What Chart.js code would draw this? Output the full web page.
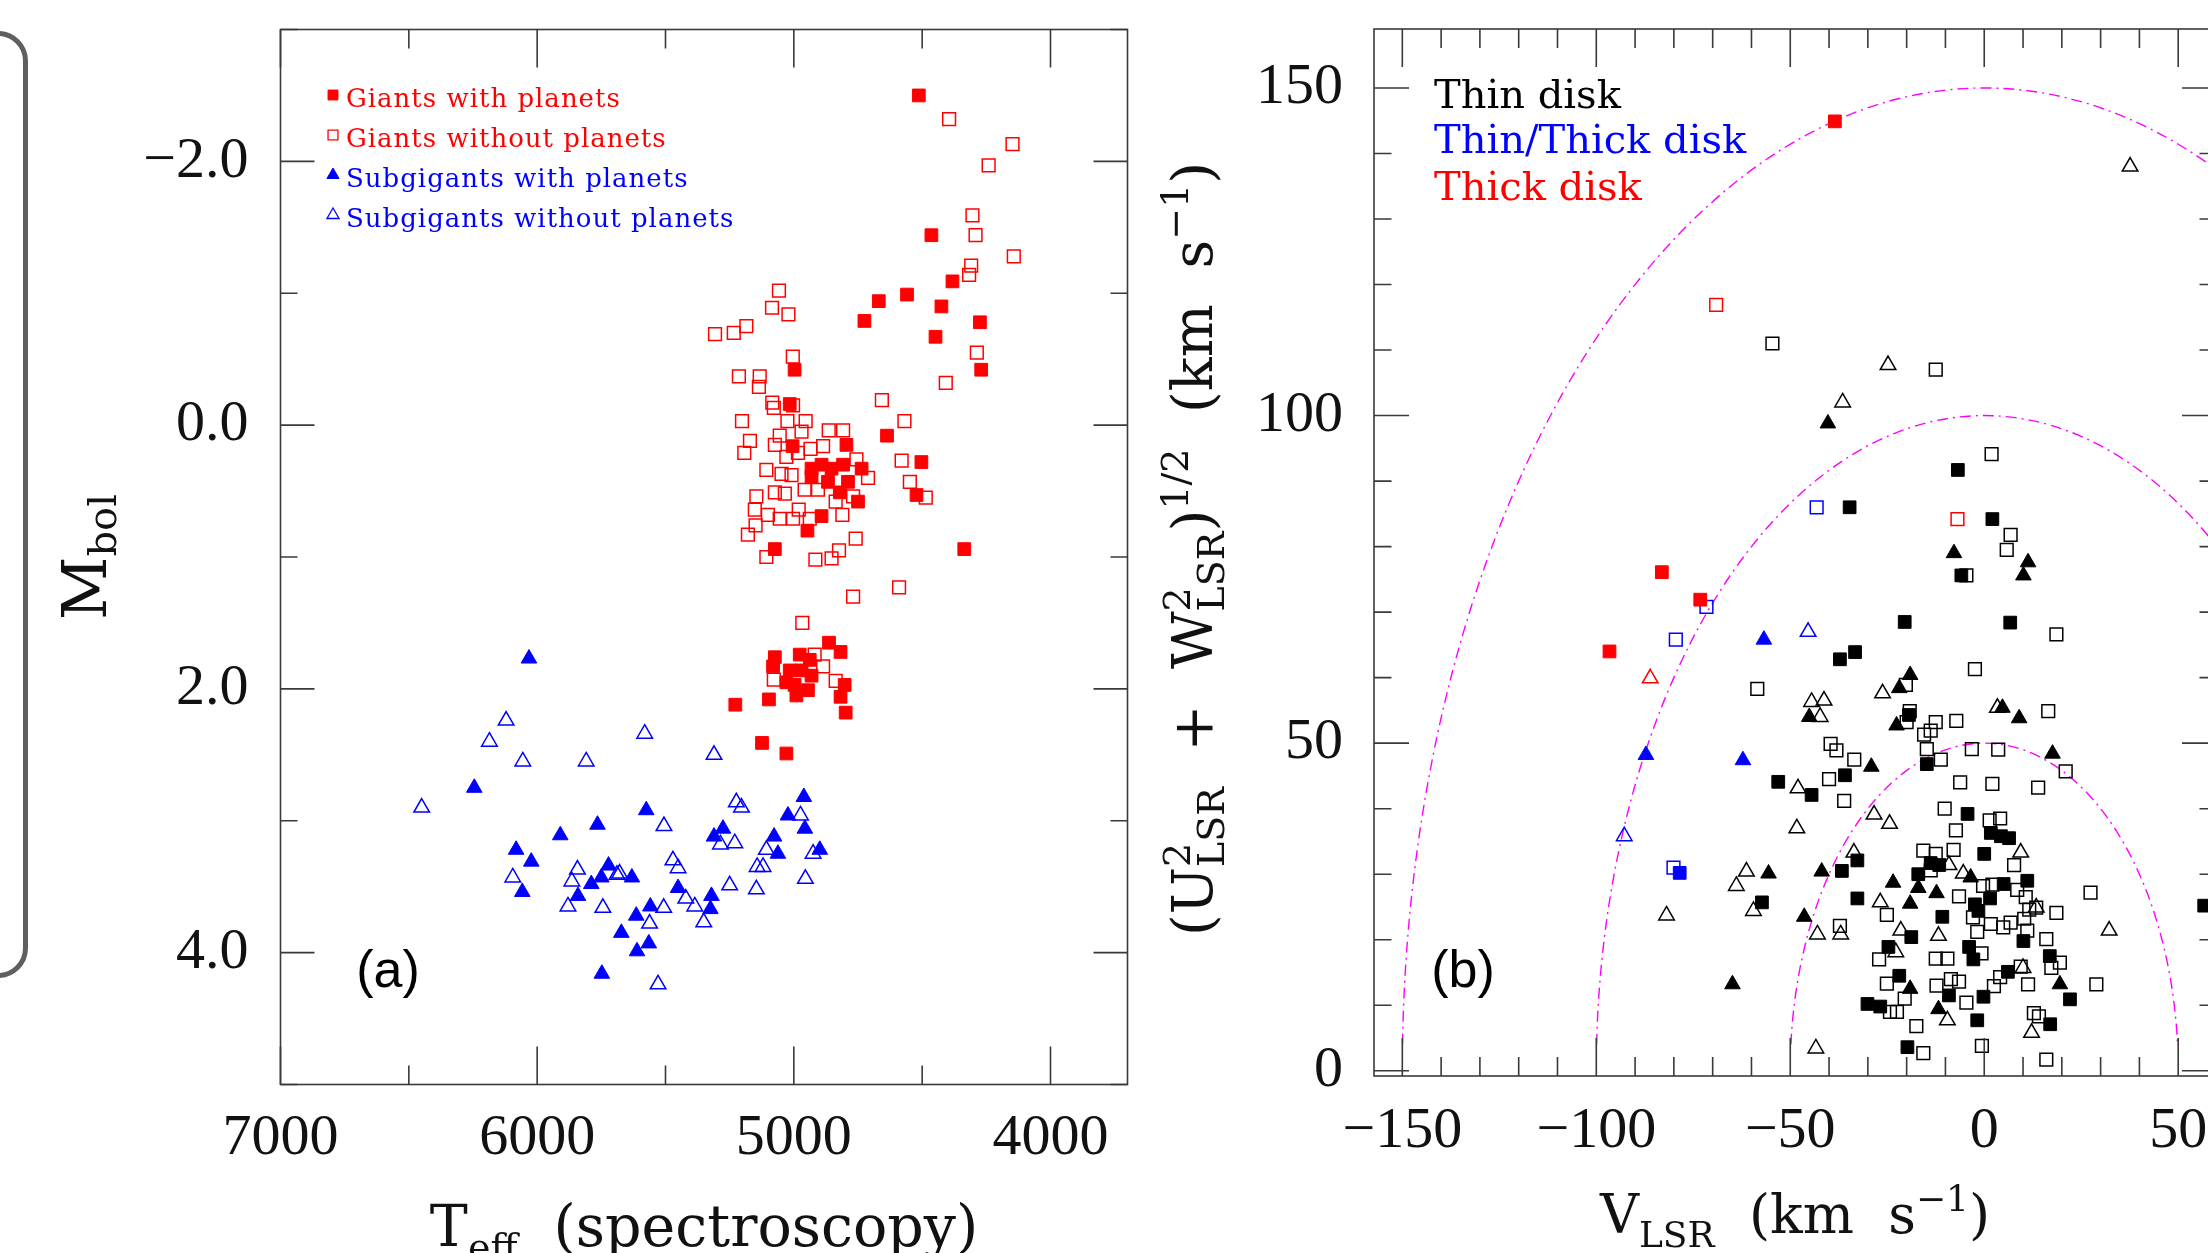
<!DOCTYPE html>
<html>
<head>
<meta charset="utf-8">
<script src="https://cdn.jsdelivr.net/npm/chart.js@4.4.1/dist/chart.umd.min.js"></script>
<style>
  html, body { margin: 0; padding: 0; background: #fff; overflow: hidden; }
  body { width: 2208px; height: 1253px; position: relative; }
  canvas { position: absolute; top: 0; }
  #chartA { left: 0; }
  #chartB { left: 1130px; }
  #bracket { position: absolute; left: -120px; top: 31px; width: 138px; height: 937px;
             border: 5px solid #5f5f5f; border-radius: 30px; }
</style>
</head>
<body>
<div id="bracket"></div>
<canvas id="chartA" width="1160" height="1253"></canvas>
<canvas id="chartB" width="1130" height="1253"></canvas>
<script>
// ---- panel (a): Teff vs Mbol ----
const teffTicks = [4000, 4500, 5000, 5500, 6000, 6500, 7000];
const mbolTicks = [-3, -2, -1, 0, 1, 2, 3, 4, 5];
const legendA = ['Giants with planets', 'Giants without planets', 'Subgigants with planets', 'Subgigants without planets'];

const giantsWithPlanets = [
  [4513,-2.50],[4464,-1.44],[4382,-1.09],[4559,-0.99],[4669,-0.94],[4725,-0.79],[4425,-0.90],[4275,-0.78],
  [4448,-0.67],[4270,-0.42],[4997,-0.42],[5016,-0.16],[4637,0.08],[4503,0.28],[4522,0.53],
  [5005,0.16],[4795,0.15],[4892,0.69],[4947,0.80],[5074,0.94],[4336,0.94],[4931,0.33],[4892,0.30],
  [4853,0.33],[4808,0.30],[4736,0.33],[4867,0.43],[4821,0.51],[4789,0.43],[4750,0.58],[4931,0.39],
  [4863,1.65],[4818,1.72],[5074,1.76],[4977,1.74],[4938,1.78],[5081,1.83],[5016,1.86],[4970,1.86],
  [4931,1.90],[5029,1.95],[4997,1.97],[4945,2.01],[4990,2.05],[4802,1.97],[4818,2.06],[4798,2.18],
  [5228,2.12],[5097,2.08],[5124,2.41],[5029,2.49]
];
const giantsWithoutPlanets = [
  [4395,-2.32],[4148,-2.13],[4241,-1.97],[4304,-1.59],[4292,-1.44],[4143,-1.28],[4309,-1.21],[4317,-1.14],
  [4287,-0.55],[4408,-0.32],[5058,-1.02],[5085,-0.89],[5021,-0.84],[5185,-0.75],[5234,-0.70],[5307,-0.69],
  [5004,-0.52],[5214,-0.37],[5133,-0.37],[5136,-0.29],[4657,-0.19],[4569,-0.03],[4580,0.27],[4548,0.43],
  [5202,-0.03],[5171,0.12],[5193,0.21],[5107,0.34],
  [5084,-0.17],[5078,-0.13],[5003,-0.15],[5025,-0.03],[4954,-0.03],[4970,0.05],[4864,0.04],[4808,0.04],
  [5074,0.15],[5055,0.08],[4935,0.18],[4886,0.16],[4984,0.21],[5029,0.24],[5048,0.37],[5009,0.38],
  [4958,0.49],[4906,0.49],[4756,0.26],[4711,0.40],[4486,0.55],[5146,0.54],[5074,0.51],[5035,0.52],
  [5152,0.64],[5101,0.68],[5055,0.71],[5003,0.71],[4981,0.64],[4938,0.71],[4811,0.68],[4837,0.58],
  [4769,0.54],[5149,0.76],[5179,0.83],[5107,1.00],[4916,1.02],[4853,1.01],[4824,0.95],[4759,0.86],
  [4590,1.23],[4769,1.30],[4967,1.50],
  [4919,1.74],[4886,1.83],[5078,1.93],[4837,1.94]
];
const subgiantsWithPlanets = [
  [6032,1.77],[6245,2.75],[4961,2.82],[5575,2.92],[5765,3.03],[5910,3.11],[5023,2.96],[4957,3.06],
  [5276,3.06],[5311,3.12],[5077,3.12],[5062,3.25],[4899,3.22],[6082,3.22],[6023,3.31],[6058,3.54],
  [5722,3.34],[5631,3.43],[5750,3.43],[5789,3.48],[5841,3.57],[5451,3.51],[5321,3.57],[5325,3.67],
  [5559,3.65],[5614,3.72],[5672,3.85],[5565,3.93],[5611,3.99],[5748,4.16]
];
const subgiantsWithoutPlanets = [
  [6121,2.24],[6186,2.40],[6056,2.55],[5809,2.55],[5581,2.34],[5311,2.50],[6450,2.90],[5506,3.04],
  [5224,2.86],[5204,2.90],[4974,2.96],[5230,3.17],[5286,3.18],[5107,3.22],[4925,3.25],[5143,3.35],
  [5120,3.35],[5250,3.49],[5146,3.52],[4955,3.44],[6095,3.43],[5843,3.37],[5865,3.46],[5880,3.65],
  [5744,3.66],[5679,3.40],[5689,3.41],[5471,3.30],[5451,3.36],[5421,3.59],[5386,3.65],[5507,3.66],
  [5562,3.78],[5351,3.77],[5529,4.24]
];

// ---- panel (b): Toomre diagram ----
const vlsrTicks = [-150, -140, -130, -120, -110, -100, -90, -80, -70, -60, -50, -40, -30, -20, -10, 0, 10, 20, 30, 40, 50, 60];
const uwTicks = [0, 10, 20, 30, 40, 50, 60, 70, 80, 90, 100, 110, 120, 130, 140, 150];
const velocityCircles = [50, 100, 150];
const legendB = ['Thin disk', 'Thin/Thick disk', 'Thick disk'];

const thinGiantsPlanets = [
  [-53.1,44.1],[-57.3,25.7],[-34.7,86.0],[-6.8,91.7],[2.1,84.2],[-5.9,75.6],[-20.5,68.5],[6.7,68.4],
  [-37.2,62.8],[-33.3,63.9],[-19.4,54.3],[-35.9,45.1],[-44.5,42.1],[-14.8,46.8],[-4.3,39.2],[1.7,36.3],
  [4.3,35.8],[6.4,35.5],[0.0,33.1],[-32.7,32.1],[-36.7,30.5],[-13.8,31.7],[-11.6,31.4],[-17.0,30.0],
  [-32.7,26.3],[5.0,28.5],[11.1,29.0],[1.5,26.3],[-2.4,25.4],[-1.5,24.4],[-10.8,23.5],[-18.8,20.4],
  [-24.7,18.9],[-3.9,18.9],[-2.8,17.0],[10.1,19.8],[16.9,17.5],[6.1,15.1],[-21.9,14.5],[22.1,10.9],
  [-30.1,10.2],[-26.8,9.8],[-9.1,11.5],[-0.2,11.3],[-1.8,7.7],[17.0,7.1],[-19.8,3.6],[56.7,25.2]
];
const thinGiantsNoPlanets = [
  [-54.6,111.0],[-12.5,107.0],[1.9,94.1],[6.8,81.8],[5.8,79.5],[-4.6,75.6],[18.6,66.6],[-2.4,61.3],
  [-20.2,58.9],[16.5,54.9],[-19.2,54.9],[-20.0,53.2],[-7.2,53.4],[-12.5,53.2],[-13.8,51.9],[-15.5,51.3],
  [-39.6,49.9],[-38.1,48.9],[-33.5,47.5],[-14.8,49.1],[-11.2,47.5],[-3.2,49.1],[3.6,49.0],[21.0,45.7],
  [-40.0,44.5],[-36.1,41.2],[-6.2,44.0],[2.1,43.8],[13.9,43.2],[-10.2,40.0],[-7.3,36.7],[1.4,38.2],
  [4.1,38.5],[-7.9,33.7],[-15.7,33.6],[-12.5,33.1],[-13.8,30.6],[7.7,31.4],[-0.3,28.2],[2.1,28.4],
  [8.5,27.6],[-6.5,26.6],[10.7,26.5],[27.4,27.2],[18.6,24.1],[-25.1,23.8],[-37.2,22.1],[-2.9,23.4],
  [1.7,22.4],[4.9,21.9],[6.8,22.6],[10.3,23.2],[11.6,24.6],[13.4,24.9],[11.1,21.4],[-1.8,21.2],
  [16.0,20.1],[-0.7,17.9],[-27.1,17.0],[-12.5,17.1],[-9.5,17.1],[19.5,16.5],[17.3,15.7],[9.4,15.9],
  [4.1,14.3],[-25.1,13.3],[-12.3,13.0],[-8.6,14.0],[-6.5,13.6],[11.3,13.2],[28.9,13.2],[2.5,12.9],
  [-20.5,11.0],[-24.3,9.0],[-22.5,9.0],[-4.6,10.4],[12.8,8.8],[14.1,8.3],[-17.5,6.8],[-15.7,2.7],
  [-0.6,3.8],[16.0,1.7],[-58.5,58.3]
];
const thinSubgiantsPlanets = [
  [-40.3,98.8],[-7.8,79.0],[11.3,77.6],[10.1,75.6],[-19.1,60.4],[-21.9,58.4],[4.7,55.4],[9.0,53.8],
  [-45.1,54.0],[-22.6,52.7],[-29.1,46.4],[17.6,48.4],[-41.9,30.4],[-23.5,28.7],[-17.0,27.9],[-19.1,25.5],
  [-12.3,27.1],[-3.5,29.5],[-46.4,23.5],[19.5,13.2],[-19.1,12.5],[-11.8,9.4],[-55.6,30.1],[-64.9,13.2]
];
const thinSubgiantsNoPlanets = [
  [37.6,138.0],[-24.8,107.7],[-36.5,102.0],[-26.2,57.6],[-44.5,56.3],[-41.3,56.5],[-42.3,54.0],[3.4,55.4],
  [-48.0,43.1],[-48.3,37.0],[-28.4,39.1],[-24.4,37.7],[-33.6,33.3],[9.4,33.3],[-9.1,31.4],[-5.4,30.1],
  [-26.8,25.7],[13.4,24.9],[-43.0,20.8],[-37.0,20.8],[-21.5,21.4],[-11.8,20.6],[32.2,21.4],[-22.8,18.1],
  [10.0,15.7],[-9.5,7.7],[12.2,5.8],[-43.4,3.4],[-61.3,30.4],[-63.9,28.2],[-59.5,24.4],[-81.9,23.7]
];
const midGiantsPlanets = [[-78.5,30.2]];
const midGiantsNoPlanets = [[-43.2,86.0],[-71.6,70.8],[-79.5,65.8],[-80.1,31.0]];
const midSubgiantsPlanets = [[-56.8,65.8],[-87.2,48.2],[-62.2,47.4]];
const midSubgiantsNoPlanets = [[-92.8,35.8],[-45.4,67.0]];
const thickGiantsPlanets = [[-38.5,144.9],[-83.1,76.1],[-73.2,71.9],[-96.6,64.0]];
const thickGiantsNoPlanets = [[-69.1,116.9],[-6.9,84.2]];
const thickSubgiantsNoPlanets = [[-86.1,59.9]];

const RED = '#ff0000', BLUE = '#0000ff', BLACK = '#000000';
const SERIF = '"DejaVu Serif", serif';
const DIGITS = '"Liberation Serif", serif';

function series(data, color, style, filled) {
  return {
    data: data.map(([x, y]) => ({ x, y })),
    pointStyle: style,
    pointRadius: 9,
    pointHoverRadius: 9,
    pointBorderWidth: filled ? 1 : 1.5,
    pointBackgroundColor: filled ? color : 'rgba(0,0,0,0)',
    pointBorderColor: color
  };
}

// text with sub/superscripts; parts with stack:true start where the previous part started
function drawRich(ctx, parts, cx, baseY, rot, color) {
  let x = 0, lastStart = 0, lastW = 0;
  const items = [];
  parts.forEach(p => {
    ctx.font = p.s + 'px ' + SERIF;
    const w = ctx.measureText(p.t).width;
    if (p.stack) {
      items.push({ p, x: lastStart });
      lastW = Math.max(lastW, w);
      x = Math.max(x, lastStart + lastW);
    } else {
      items.push({ p, x });
      lastStart = x; lastW = w; x += w;
    }
  });
  ctx.save();
  ctx.translate(cx, baseY);
  ctx.rotate(rot);
  ctx.fillStyle = color;
  ctx.textBaseline = 'alphabetic';
  ctx.textAlign = 'left';
  items.forEach(it => {
    ctx.font = it.p.s + 'px ' + SERIF;
    ctx.fillText(it.p.t, it.x - x / 2, it.p.dy || 0);
  });
  ctx.restore();
}

function makeDecor(cfg) {
  return {
    id: 'decor',
    beforeDatasetsDraw(chart) {
      if (!cfg.circles) return;
      const { ctx, chartArea: a, scales: { x, y } } = chart;
      const cx = x.getPixelForValue(0), cy = y.getPixelForValue(0);
      ctx.save();
      ctx.beginPath();
      ctx.rect(a.left, a.top, a.right - a.left, a.bottom - a.top);
      ctx.clip();
      ctx.strokeStyle = '#ff00ff';
      ctx.lineWidth = 1.4;
      ctx.setLineDash([11, 5, 2, 5]);
      cfg.circles.forEach(r => {
        const rx = Math.abs(x.getPixelForValue(r) - cx);
        const ry = Math.abs(y.getPixelForValue(r) - cy);
        const cut = Math.asin(4 / r);
        ctx.beginPath();
        ctx.ellipse(cx, cy, rx, ry, 0, Math.PI + cut, 2 * Math.PI - cut);
        ctx.stroke();
      });
      ctx.restore();
    },
    afterDraw(chart) {
      const { ctx, chartArea: a, scales: { x, y } } = chart;
      ctx.save();
      // frame and inward ticks
      ctx.strokeStyle = '#3a3a3a';
      ctx.lineWidth = 1.6;
      ctx.strokeRect(a.left, a.top, a.right - a.left, a.bottom - a.top);
      ctx.beginPath();
      x.ticks.forEach(t => {
        const px = x.getPixelForValue(t.value);
        const len = t.value % cfg.xMajor === 0 ? cfg.xTick : cfg.xTick / 2;
        ctx.moveTo(px, a.bottom); ctx.lineTo(px, a.bottom - len);
        ctx.moveTo(px, a.top); ctx.lineTo(px, a.top + len);
      });
      y.ticks.forEach(t => {
        const py = y.getPixelForValue(t.value);
        const len = t.value % cfg.yMajor === 0 ? cfg.yTick : cfg.yTick / 2;
        ctx.moveTo(a.left, py); ctx.lineTo(a.left + len, py);
        ctx.moveTo(a.right, py); ctx.lineTo(a.right - len, py);
      });
      ctx.stroke();

      // legend
      const lg = cfg.legend;
      ctx.font = lg.size + 'px ' + SERIF;
      ctx.letterSpacing = lg.spacing + 'px';
      ctx.textBaseline = 'alphabetic';
      ctx.textAlign = 'left';
      lg.labels.forEach((label, i) => {
        const by = lg.baselines[i];
        ctx.fillStyle = lg.colors[i];
        ctx.fillText(label, lg.textX, by);
        if (lg.markers) {
          const m = lg.markers[i];
          ctx.fillStyle = m.filled ? lg.colors[i] : 'rgba(0,0,0,0)';
          ctx.strokeStyle = lg.colors[i];
          ctx.lineWidth = m.filled ? 1 : 1.3;
          Chart.helpers.drawPoint(ctx, { pointStyle: m.style, radius: 7, rotation: 0, borderWidth: ctx.lineWidth },
            lg.markerX, by - 12);
        }
      });
      ctx.letterSpacing = '0px';

      // axis titles
      const xt = cfg.xTitle, yt = cfg.yTitle;
      drawRich(ctx, xt.parts, xt.cx, xt.by, 0, '#111');
      drawRich(ctx, yt.parts, yt.bx, yt.cy, -Math.PI / 2, '#111');

      // panel label
      ctx.font = '52px "Liberation Sans", Arial, sans-serif';
      ctx.fillStyle = '#000';
      ctx.textAlign = 'center';
      ctx.fillText(cfg.panel.text, cfg.panel.x, cfg.panel.y);
      ctx.restore();
    }
  };
}

function fixedTicks(list) {
  return s => { s.ticks = list.map(v => ({ value: v })); };
}
// pin the axis box size and drop the label overhang padding chart.js adds
function fixHeight(h) {
  return s => { s.height = h; s.paddingLeft = 0; s.paddingRight = 0; };
}
function fixWidth(w) {
  return s => { s.width = w; s.paddingTop = 0; s.paddingBottom = 0; };
}
const minus = v => (v < 0 ? '\u2212' : '') + Math.abs(v);

const commonOpts = {
  responsive: false,
  animation: false,
  devicePixelRatio: 1,
  events: [],
  plugins: { legend: { display: false }, tooltip: { enabled: false } }
};

// panel (a)
new Chart(document.getElementById('chartA'), {
  type: 'scatter',
  data: {
    datasets: [
      series(giantsWithPlanets, RED, 'rect', true),
      series(giantsWithoutPlanets, RED, 'rect', false),
      series(subgiantsWithPlanets, BLUE, 'triangle', true),
      series(subgiantsWithoutPlanets, BLUE, 'triangle', false)
    ]
  },
  options: {
    ...commonOpts,
    layout: { padding: { left: 0, top: 29.5, right: 32.5, bottom: 0 } },
    scales: {
      x: {
        type: 'linear', min: 3700, max: 7000, reverse: true,
        grid: { display: false, drawTicks: false }, border: { display: false },
        afterBuildTicks: fixedTicks(teffTicks),
        afterFit: fixHeight(168.5),
        ticks: { font: { family: DIGITS, size: 58 }, color: '#111', padding: 19,
                 autoSkip: false, maxRotation: 0, minRotation: 0,
                 callback: v => (v % 1000 === 0 ? String(v) : '') }
      },
      y: {
        type: 'linear', min: -3, max: 5, reverse: true,
        grid: { display: false, drawTicks: false }, border: { display: false },
        afterBuildTicks: fixedTicks(mbolTicks),
        afterFit: fixWidth(280.5),
        ticks: { font: { family: DIGITS, size: 58 }, color: '#111', padding: 32, autoSkip: false,
                 callback: v => (v % 2 === 0 ? (v < 0 ? '\u2212' : '') + Math.abs(v).toFixed(1) : '') }
      }
    }
  },
  plugins: [makeDecor({
    xMajor: 1000, xTick: 38, yMajor: 2, yTick: 34,
    legend: {
      labels: legendA, colors: [RED, RED, BLUE, BLUE], size: 26, spacing: 1,
      textX: 346, markerX: 333, baselines: [107, 147, 187, 227],
      markers: [{ style: 'rect', filled: true }, { style: 'rect', filled: false },
                { style: 'triangle', filled: true }, { style: 'triangle', filled: false }]
    },
    xTitle: { cx: 704, by: 1246, parts: [{ t: 'T', s: 57 }, { t: 'eff', s: 38, dy: 14 }, { t: '  (spectroscopy)', s: 57 }] },
    yTitle: { bx: 106, cy: 557, parts: [{ t: 'M', s: 62 }, { t: 'bol', s: 40, dy: 10 }] },
    panel: { text: '(a)', x: 388, y: 987 }
  })]
});

// panel (b)
new Chart(document.getElementById('chartB'), {
  type: 'scatter',
  data: {
    datasets: [
      series(thickGiantsPlanets, RED, 'rect', true),
      series(thickGiantsNoPlanets, RED, 'rect', false),
      series(thickSubgiantsNoPlanets, RED, 'triangle', false),
      series(midGiantsPlanets, BLUE, 'rect', true),
      series(midGiantsNoPlanets, BLUE, 'rect', false),
      series(midSubgiantsPlanets, BLUE, 'triangle', true),
      series(midSubgiantsNoPlanets, BLUE, 'triangle', false),
      series(thinGiantsPlanets, BLACK, 'rect', true),
      series(thinSubgiantsPlanets, BLACK, 'triangle', true),
      series(thinGiantsNoPlanets, BLACK, 'rect', false),
      series(thinSubgiantsNoPlanets, BLACK, 'triangle', false)
    ]
  },
  options: {
    ...commonOpts,
    layout: { padding: { left: 0, top: 29, right: 43, bottom: 0 } },
    scales: {
      x: {
        type: 'linear', min: -157.3, max: 60,
        grid: { display: false, drawTicks: false }, border: { display: false },
        afterBuildTicks: fixedTicks(vlsrTicks),
        afterFit: fixHeight(177),
        ticks: { font: { family: DIGITS, size: 58 }, color: '#111', padding: 21,
                 autoSkip: false, maxRotation: 0, minRotation: 0,
                 callback: v => (v % 50 === 0 ? minus(v) : '') }
      },
      y: {
        type: 'linear', min: -0.8, max: 159,
        grid: { display: false, drawTicks: false }, border: { display: false },
        afterBuildTicks: fixedTicks(uwTicks),
        afterFit: fixWidth(244),
        ticks: { font: { family: DIGITS, size: 58 }, color: '#111', padding: 31, autoSkip: false,
                 callback: v => (v % 50 === 0 ? String(v) : '') }
      }
    }
  },
  plugins: [makeDecor({
    circles: velocityCircles,
    xMajor: 50, xTick: 38, yMajor: 50, yTick: 35,
    legend: {
      labels: legendB, colors: [BLACK, BLUE, RED], size: 40, spacing: 0,
      textX: 304, baselines: [108, 153, 200]
    },
    xTitle: { cx: 665, by: 1233, parts: [
      { t: 'V', s: 54 }, { t: 'LSR', s: 36, dy: 14 }, { t: '  (km  s', s: 54 },
      { t: '\u22121', s: 36, dy: -22 }, { t: ')', s: 54 }] },
    yTitle: { bx: 82, cy: 549, parts: [
      { t: '(U', s: 56 }, { t: '2', s: 38, dy: -22 }, { t: 'LSR', s: 38, dy: 12, stack: true },
      { t: '  +  W', s: 56 }, { t: '2', s: 38, dy: -22 }, { t: 'LSR', s: 38, dy: 12, stack: true },
      { t: ')', s: 56 }, { t: '1/2', s: 38, dy: -24 }, { t: '  (km  s', s: 56 },
      { t: '\u22121', s: 38, dy: -24 }, { t: ')', s: 56 }] },
    panel: { text: '(b)', x: 333, y: 987 }
  })]
});
</script>
</body>
</html>
